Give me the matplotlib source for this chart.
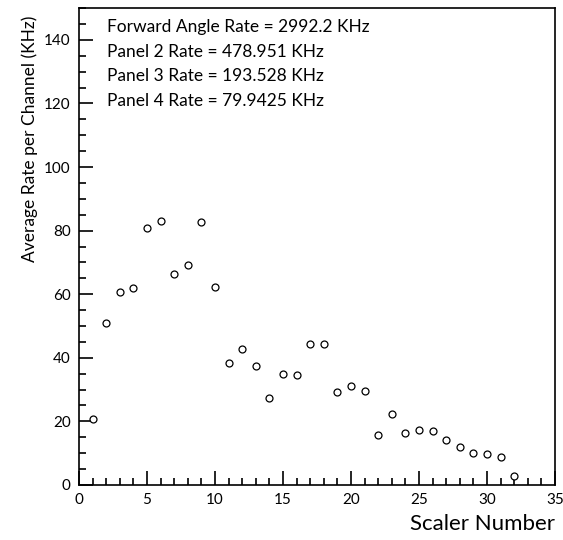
import matplotlib.pyplot as plt
from matplotlib.ticker import MultipleLocator

plt.rcParams['font.family'] = ['Lato', 'DejaVu Sans']

# Average rate per scaler channel (KHz)
scaler = list(range(1, 33))
rate = [20.7, 50.8, 60.6, 62.0, 80.8, 83.1, 66.3, 69.1, 82.6, 62.2,
        38.3, 42.9, 37.3, 27.5, 35.0, 34.7, 44.5, 44.4, 29.3, 31.0,
        29.7, 15.6, 22.2, 16.3, 17.4, 16.9, 14.2, 12.0, 10.1, 9.8,
        8.9, 2.8]

summary = ['Forward Angle Rate = 2992.2 KHz',
           'Panel 2 Rate = 478.951 KHz',
           'Panel 3 Rate = 193.528 KHz',
           'Panel 4 Rate = 79.9425 KHz']

fig = plt.figure(figsize=(5.63, 5.40), dpi=100)
ax = fig.add_axes([0.1403, 0.1019, 0.8455, 0.8831])

ax.plot(scaler, rate, linestyle='none', marker='o', markersize=5,
        markerfacecolor='white', markeredgecolor='black', markeredgewidth=0.9)

ax.set_xlim(0, 35)
ax.set_ylim(0, 150)
ax.xaxis.set_major_locator(MultipleLocator(5))
ax.xaxis.set_minor_locator(MultipleLocator(1))
ax.yaxis.set_major_locator(MultipleLocator(20))
ax.yaxis.set_minor_locator(MultipleLocator(5))
ax.tick_params(which='both', direction='in', top=False, right=False,
               labelsize=11, width=1.2)
ax.tick_params(which='major', length=10, pad=6)
ax.tick_params(which='minor', length=5)
for s in ax.spines.values():
    s.set_linewidth(1.2)

ax.set_xlabel('Scaler Number', fontsize=16, loc='right', labelpad=5)
ax.set_ylabel('Average Rate per Channel (KHz)', fontsize=12.5, loc='top')
ax.yaxis.set_label_coords(-0.086, 0.985, transform=ax.transAxes)
ax.yaxis.label.set_ha('right')

for i, line in enumerate(summary):
    ax.text(0.059, 0.96 - i * 0.0515, line, transform=ax.transAxes,
            fontsize=12.5, va='center', ha='left')

fig.savefig('out.png', dpi=100)
